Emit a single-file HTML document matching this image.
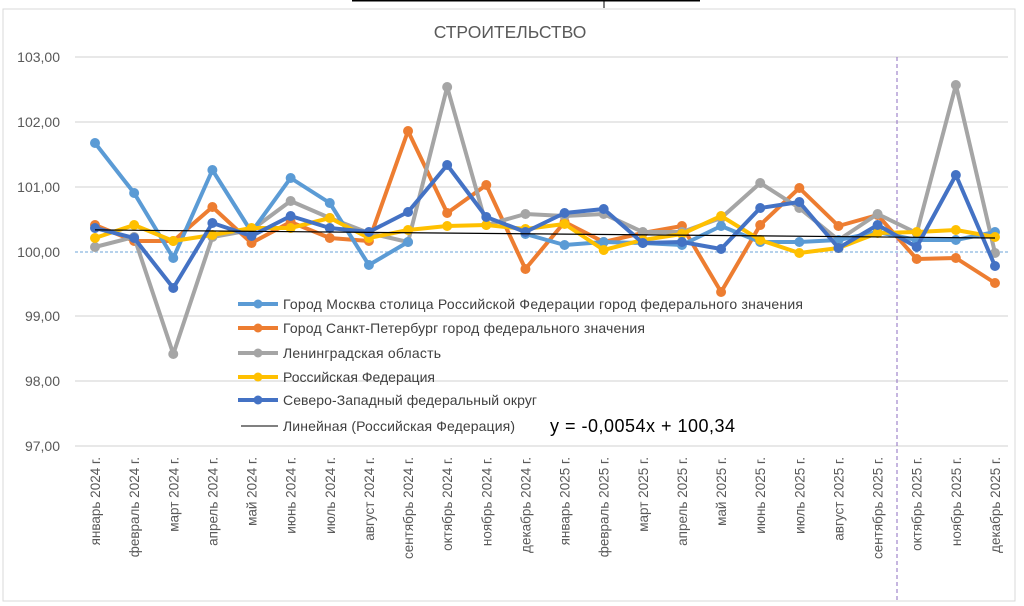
<!DOCTYPE html>
<html><head><meta charset="utf-8"><style>
html,body{margin:0;padding:0;background:#fff;width:1024px;height:606px;overflow:hidden}
svg{display:block;font-family:"Liberation Sans","DejaVu Sans",sans-serif}
</style></head><body>
<svg id="s" width="1024" height="606" viewBox="0 0 1024 606">
<rect x="3" y="9" width="1012" height="592" fill="#fff" stroke="#d9d9d9"/>
<line x1="352" y1="0" x2="700" y2="0" stroke="#000" stroke-width="3"/>
<line x1="604" y1="0" x2="604" y2="8" stroke="#000"/>
<text x="510" y="38" font-size="17.5" fill="#595959" text-anchor="middle">СТРОИТЕЛЬСТВО</text>
<g stroke="#d9d9d9" stroke-width="1.3">
<line x1="75" y1="57" x2="1008" y2="57"/><line x1="75" y1="122" x2="1008" y2="122"/>
<line x1="75" y1="187" x2="1008" y2="187"/><line x1="75" y1="316" x2="1008" y2="316"/>
<line x1="75" y1="381" x2="1008" y2="381"/><line x1="75" y1="446" x2="1008" y2="446"/>
</g>
<line x1="75" y1="252" x2="1008" y2="252" stroke="#9dc3e6" stroke-width="1.5" stroke-dasharray="3,2"/>
<line x1="897" y1="57" x2="897" y2="600" stroke="#8e6cc0" stroke-width="1" stroke-dasharray="4,3"/>
<g font-size="14" fill="#595959" text-anchor="end">
<text x="60" y="62">103,00</text><text x="60" y="127">102,00</text><text x="60" y="192">101,00</text>
<text x="60" y="257">100,00</text><text x="60" y="321">99,00</text><text x="60" y="386">98,00</text><text x="60" y="451">97,00</text>
</g>
<g id="series"></g>
<g id="xl" font-size="13.5" fill="#595959"></g>
<g font-size="14" fill="#404040">
<line x1="238" y1="304" x2="278" y2="304" stroke="#5b9bd5" stroke-width="4"/><circle cx="258" cy="304" r="4.5" fill="#5b9bd5"/>
<text x="283" y="309" textLength="520">Город Москва столица Российской Федерации город федерального значения</text>
<line x1="238" y1="328" x2="278" y2="328" stroke="#ed7d31" stroke-width="4"/><circle cx="258" cy="328" r="4.5" fill="#ed7d31"/>
<text x="283" y="333" textLength="362">Город Санкт-Петербург город федерального значения</text>
<line x1="238" y1="353" x2="278" y2="353" stroke="#a5a5a5" stroke-width="4"/><circle cx="258" cy="353" r="4.5" fill="#a5a5a5"/>
<text x="283" y="358" textLength="158">Ленинградская область</text>
<line x1="238" y1="377" x2="278" y2="377" stroke="#ffc000" stroke-width="4"/><circle cx="258" cy="377" r="4.5" fill="#ffc000"/>
<text x="283" y="382" textLength="152">Российская Федерация</text>
<line x1="238" y1="400" x2="278" y2="400" stroke="#4472c4" stroke-width="4"/><circle cx="258" cy="400" r="4.5" fill="#4472c4"/>
<text x="283" y="405" textLength="254">Северо-Западный федеральный округ</text>
<line x1="241" y1="426" x2="278" y2="426" stroke="#000" stroke-width="1"/>
<text x="283" y="431" textLength="232">Линейная (Российская Федерация)</text>
</g>
<text x="550" y="432" font-size="18" fill="#000" textLength="185">y = -0,0054x + 100,34</text>
</svg>
<script>
var X=function(i){return 95+i*39.13;};
var ns="http://www.w3.org/2000/svg",g=document.getElementById("series");
var S=[
["#ed7d31",[225,241,241,207,243,222,238,241,131,213,185,269,222,242,233,226,292,225,188,226,215,259,258,283]],
["#a5a5a5",[247,237,354,237,230,201,218,233,242,87,225,214,216,214,232,232,218,183,208,240,214,233,85,253]],
["#5b9bd5",[143,193,258,170,232,178,203,265,242,null,null,234,245,242,243,245,226,242,242,240,232,240,240,232]],
["#ffc000",[238,225,241,235,228,228,218,238,230,226,225,229,224,250,240,234,216,240,253,248,233,232,230,237]],
["#4472c4",[228,238,288,223,236,216,228,232,212,165,217,232,213,209,243,242,249,208,202,248,225,247,175,266]]];
S.forEach(function(s){
 var segs=[],cur=[];
 s[1].forEach(function(v,i){if(v==null){if(cur.length)segs.push(cur);cur=[];}else cur.push(X(i).toFixed(1)+","+v);});
 if(cur.length)segs.push(cur);
 segs.forEach(function(c){var p=document.createElementNS(ns,"polyline");p.setAttribute("points",c.join(" "));p.setAttribute("fill","none");p.setAttribute("stroke",s[0]);p.setAttribute("stroke-width","4");p.setAttribute("stroke-linejoin","round");g.appendChild(p);});
 s[1].forEach(function(v,i){if(v==null)return;var c=document.createElementNS(ns,"circle");c.setAttribute("cx",X(i));c.setAttribute("cy",v);c.setAttribute("r","5");c.setAttribute("fill",s[0]);g.appendChild(c);});
});
var t=document.createElementNS(ns,"line");t.setAttribute("x1",X(0));t.setAttribute("y1",229.9);t.setAttribute("x2",X(23));t.setAttribute("y2",238);t.setAttribute("stroke","#000");t.setAttribute("stroke-width","1.2");g.appendChild(t);
var m=["январь","февраль","март","апрель","май","июнь","июль","август","сентябрь","октябрь","ноябрь","декабрь"];
var xl=document.getElementById("xl");
for(var i=0;i<24;i++){var tx=document.createElementNS(ns,"text");var x=X(i)+5,y=457;
tx.setAttribute("transform","translate("+x+","+y+") rotate(-90)");tx.setAttribute("text-anchor","end");
tx.textContent=m[i%12]+" "+(i<12?2024:2025)+" г.";xl.appendChild(tx);}
</script>
</body></html>
